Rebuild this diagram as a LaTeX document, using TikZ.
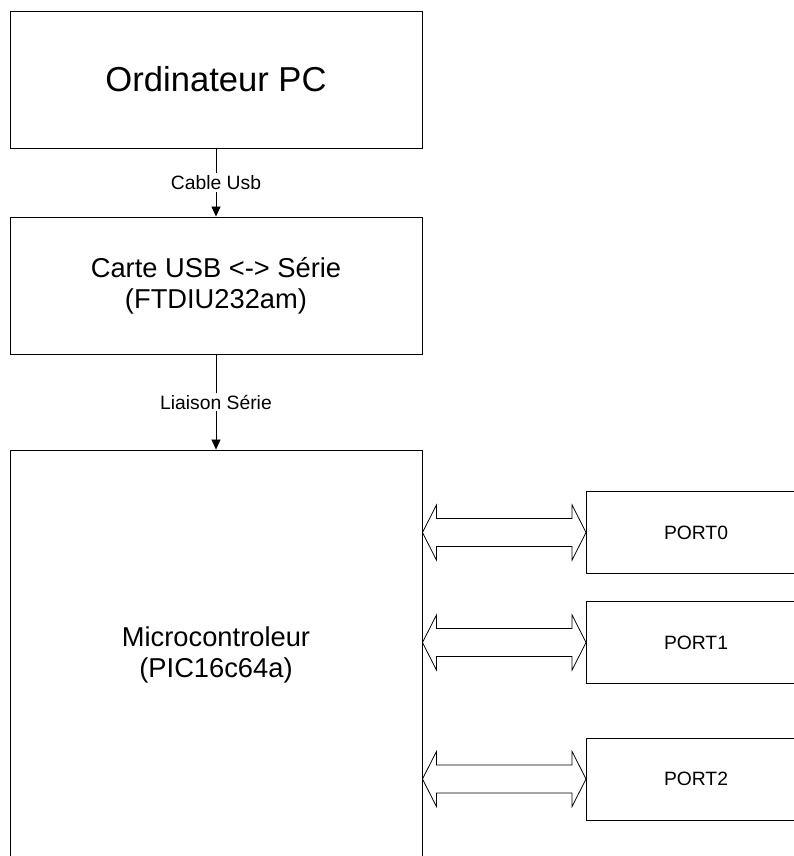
\documentclass[tikz,border=0pt]{standalone}
\usepackage{fontspec}
\setmainfont{Liberation Sans}
\usepackage{tikz}
\usetikzlibrary{arrows.meta,calc}

\tikzset{
  bloc/.style={draw,line width=0.9pt,inner sep=0pt,align=center,minimum width=412pt},
  port/.style={draw,line width=0.9pt,inner sep=0pt,minimum width=219pt,minimum height=82pt,font=\fontsize{19.3}{23}\selectfont},
  liaison/.style={line width=0.8pt,-{Triangle[length=10pt,width=9pt]}},
  etiquette/.style={fill=white,inner sep=2pt,font=\fontsize{19.3}{23}\selectfont}
}

\begin{document}
\begin{tikzpicture}[x=1pt,y=-1pt]
\useasboundingbox (0,0) rectangle (794,856);
\fill[white] (0,0) rectangle (794,856);
\clip (0,0) rectangle (794,856);
% blocs principaux
\node[bloc,minimum height=137pt,font=\fontsize{34.6}{40}\selectfont] (pc) at (216,79.5) {Ordinateur PC};
\node[bloc,minimum height=137pt,font=\fontsize{27.3}{31}\selectfont] (carte) at (216,285.5) {Carte USB <-> Série\\(FTDIU232am)};
\node[bloc,minimum height=410pt,font=\fontsize{27.3}{31}\selectfont] (micro) at (216,655) {Microcontroleur\\(PIC16c64a)};
% ports
\node[port] (port0) at (696,532.5) {PORT0};
\node[port] (port1) at (696,642.5) {PORT1};
\node[port] (port2) at (696,779) {PORT2};
% liaisons
\draw[liaison] (pc.south) -- node[etiquette]{Cable Usb} (carte.north);
\draw[liaison] (carte.south) -- node[etiquette]{Liaison Série} (micro.north);
% bus bidirectionnels
\foreach \p in {port0,port1,port2}{
  \draw[line width=0.8pt,line join=miter] (micro.east |- \p.west) -- ++(14,-27.5) -- ++(0,13.5)
    -- ($(\p.west)+(-14,-14)$) -- ++(0,-13.5) -- (\p.west) -- ++(-14,27.5) -- ++(0,-13.5)
    -- ($(micro.east |- \p.west)+(14,14)$) -- ++(0,13.5) -- cycle;
}
\end{tikzpicture}
\end{document}
